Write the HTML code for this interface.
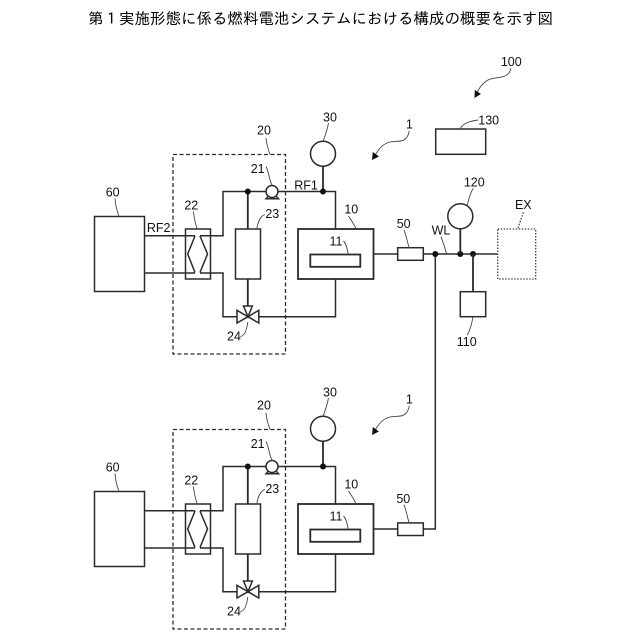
<!DOCTYPE html>
<html><head><meta charset="utf-8"><style>
html,body{margin:0;padding:0;background:#fff}
svg{display:block}
.l{fill:none;stroke:#2a2a2a;stroke-width:1.5}
.h{fill:none;stroke:#2a2a2a;stroke-width:1.8}
.t{fill:none;stroke:#444;stroke-width:.9}
.d{fill:none;stroke:#2a2a2a;stroke-width:1.3;stroke-dasharray:4 2.5}
.p{fill:none;stroke:#444;stroke-width:1.3;stroke-dasharray:1.5 1.5}
text{font-family:"Liberation Sans",sans-serif;font-size:12.5px;fill:#111;text-anchor:middle}
.title{font-family:"Liberation Sans","IPAGothic","Noto Sans CJK JP",sans-serif;font-size:15.5px;fill:#000}
</style></head><body>
<svg width="640" height="640" viewBox="0 0 640 640" xmlns="http://www.w3.org/2000/svg">
<rect width="640" height="640" fill="#fff"/>
<text class="title" x="320.5" y="24" textLength="465" lengthAdjust="spacingAndGlyphs">第１実施形態に係る燃料電池システムにおける構成の概要を示す図</text>

<!-- Upper unit -->
<g>
<rect class="l" x="94.5" y="216.5" width="50" height="75"/>
<rect class="d" x="173" y="154.5" width="112.5" height="199.5"/>
<rect class="l" x="185.5" y="229" width="25" height="50"/>
<path class="l" d="M195 236 L187.7 254 L195 272.5M200 236 L207.5 254 L200 272.5"/>
<path class="l" d="M144.500 235.800H195M200 235.800H223V191.500H266M278 191.500H335.500V229M144.500 273H195M200 273H223V316.700H237M259 316.700H335.500V279"/>
<rect class="l" x="235.500" y="229" width="25" height="50"/>
<path class="h" d="M247.800 191.500V229M247.800 279V306M323 166V191.500"/>
<circle cx="247.800" cy="191.500" r="3" fill="#111"/>
<circle cx="323" cy="191.500" r="3" fill="#111"/>
<circle class="l" cx="272" cy="191.500" r="6"/>
<path class="l" d="M268 196.500L266 198.700H278.500L276.500 196.500"/>
<circle class="l" cx="323" cy="153.700" r="12.500"/>
<rect class="h" x="298" y="229" width="75.500" height="50"/>
<rect class="h" x="310.300" y="254.500" width="50" height="12.300"/>
<path class="l" d="M237 310.300V323L248 316.700ZM258.800 310.300V323L248 316.700ZM243.500 306H252.300L248 316.700Z"/>
<path class="t" d="M266 138C266.500 144 268 149 270 154.500M328.500 123C327 131 325 136 323 141.500M266 166.500C269 172 269 180 272 185M115 198.500C115.500 206 117 211 119 216.500M193.500 211.500C194 218 195.500 224 197.300 229M265 214.500C260 216 258 222 256.700 229M348.500 216C351 220 354 224 356 229M343.500 241C346.500 244 347.500 250 348.300 254.500M240.500 336.500C245 336 247 328 247.800 322"/>
<text x="264" y="134.500">20</text><text x="330" y="121.500">30</text><text x="257.700" y="173">21</text>
<text x="112.700" y="196.700">60</text><text x="158.700" y="232">RF2</text><text x="191.300" y="209.500">22</text>
<text x="272.300" y="218">23</text><text x="351.300" y="213.700">10</text><text x="336" y="245.700">11</text>
<text x="306" y="189.300">RF1</text><text x="234" y="340.500">24</text>
<path class="t" d="M409.300 130.700C407 145 396 140 390 142C382 144 378 150 374 157"/>
<polygon points="372,160 372.800,152 379,156.500" fill="#111"/>
<text x="409.300" y="128.700">1</text>
</g>

<!-- Lower unit -->
<g transform="translate(0 275)">
<rect class="l" x="94.500" y="216.500" width="50" height="75"/>
<rect class="d" x="173" y="154.500" width="112.500" height="199.500"/>
<rect class="l" x="185.500" y="229" width="25" height="50"/>
<path class="l" d="M195 236 L187.700 254 L195 272.500M200 236 L207.500 254 L200 272.500"/>
<path class="l" d="M144.500 235.800H195M200 235.800H223V191.500H266M278 191.500H335.500V229M144.500 273H195M200 273H223V316.700H237M259 316.700H335.500V279"/>
<rect class="l" x="235.500" y="229" width="25" height="50"/>
<path class="h" d="M247.800 191.500V229M247.800 279V306M323 166V191.500"/>
<circle cx="247.800" cy="191.500" r="3" fill="#111"/>
<circle cx="323" cy="191.500" r="3" fill="#111"/>
<circle class="l" cx="272" cy="191.500" r="6"/>
<path class="l" d="M268 196.500L266 198.700H278.500L276.500 196.500"/>
<circle class="l" cx="323" cy="153.700" r="12.500"/>
<rect class="h" x="298" y="229" width="75.500" height="50"/>
<rect class="h" x="310.300" y="254.500" width="50" height="12.300"/>
<path class="l" d="M237 310.300V323L248 316.700ZM258.800 310.300V323L248 316.700ZM243.500 306H252.300L248 316.700Z"/>
<path class="t" d="M266 138C266.500 144 268 149 270 154.500M328.500 123C327 131 325 136 323 141.500M266 166.500C269 172 269 180 272 185M115 198.500C115.500 206 117 211 119 216.500M193.500 211.500C194 218 195.500 224 197.300 229M265 214.500C260 216 258 222 256.700 229M348.500 216C351 220 354 224 356 229M343.500 241C346.500 244 347.500 250 348.300 254.500M240.500 336.500C245 336 247 328 247.800 322"/>
<text x="264" y="134.500">20</text><text x="330" y="121.500">30</text><text x="257.700" y="173">21</text>
<text x="112.700" y="196.700">60</text><text x="191.300" y="209.500">22</text>
<text x="272.300" y="218">23</text><text x="351.300" y="213.700">10</text><text x="336" y="245.700">11</text>
<text x="234" y="340.500">24</text>
<path class="t" d="M409.300 130.700C407 145 396 140 390 142C382 144 378 150 374 157"/>
<polygon points="372,160 372.800,152 379,156.500" fill="#111"/>
<text x="409.300" y="128.700">1</text>
</g>

<!-- Right side -->
<path class="l" d="M373.500 254H397.700M423.300 254H497.500M435.300 254V529H423.300M373.500 529H397.700"/>
<rect class="l" x="397.700" y="247.700" width="25.600" height="12.600"/>
<rect class="l" x="397.700" y="522.900" width="25.600" height="12.600"/>
<circle cx="435.300" cy="254" r="3" fill="#111"/>
<circle cx="460.300" cy="254" r="3" fill="#111"/>
<circle cx="473" cy="254" r="3" fill="#111"/>
<path class="h" d="M460.300 229V254M473 254V291.700"/>
<circle class="l" cx="460.300" cy="216.300" r="12.500"/>
<rect class="l" x="460.300" y="291.700" width="25.400" height="25"/>
<rect class="l" x="435.700" y="129" width="50" height="25.300"/>
<rect class="p" x="497.700" y="229" width="38" height="50"/>
<path class="t" d="M510.700 68.300C509 80 495 76 488 80C481 84 478 90 476 95M478.300 120C470 121 463 123 460 129M473.300 188.300C470 193 469 199 467.300 205M404 230C406 235 407.500 242 409 247.700M441 236.700C443 242 445 248 446.700 254M467.300 335C470 330 472 323 473 316.700M404 504.700C406 510 407.500 517 409 522.900"/>
<path class="p" d="M523.300 212.300L517.700 229"/>
<polygon points="474.500,98 474.800,90 481,94" fill="#111"/>
<text x="511.300" y="66">100</text><text x="488.700" y="124.500">130</text><text x="474.300" y="186.500">120</text>
<text x="523.300" y="209">EX</text><text x="403.700" y="228">50</text><text x="441" y="234.500">WL</text>
<text x="466.700" y="346">110</text><text x="403.300" y="503">50</text>
</svg>
</body></html>
